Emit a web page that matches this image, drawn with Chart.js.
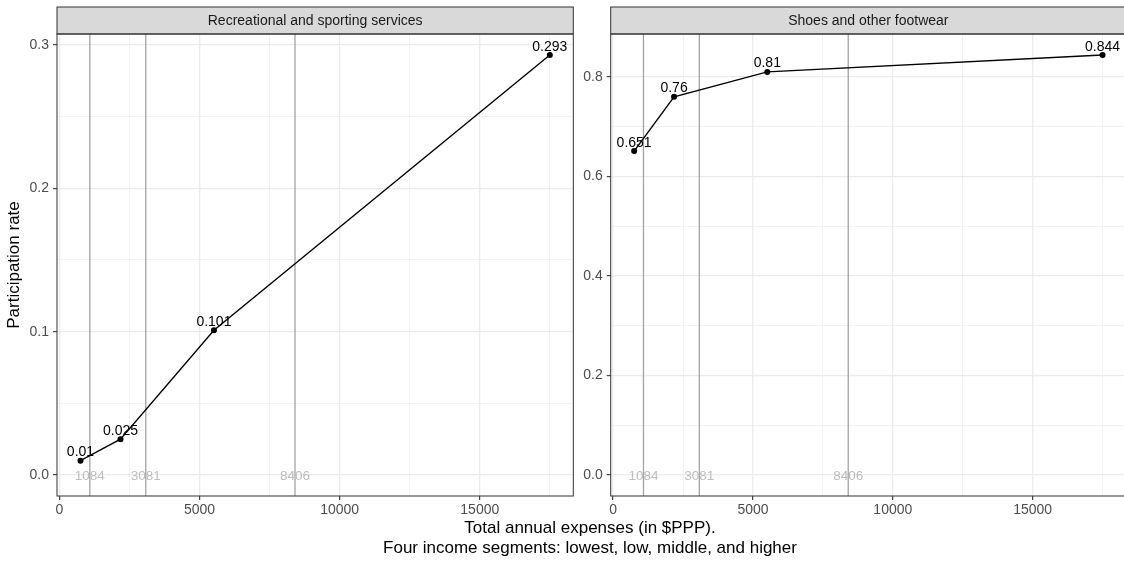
<!DOCTYPE html>
<html>
<head>
<meta charset="utf-8">
<script src="https://cdn.jsdelivr.net/npm/chart.js@4"></script>
<style>
  body { margin: 0; width: 1124px; height: 562px; overflow: hidden; background: #fff; position: relative; }
  canvas { position: absolute; top: 0; }
  #left-chart { left: 0; }
  #right-chart { left: 580px; }
  #x-title {
    position: absolute; left: 190px; width: 800px; top: 518px;
    text-align: center; font-family: "Liberation Sans", Arial, sans-serif;
    font-size: 17px; line-height: 20px; color: #000;
  }
</style>
</head>
<body>
<canvas id="left-chart" width="580" height="562"></canvas>
<canvas id="right-chart" width="550" height="562"></canvas>
<div id="x-title">Total annual expenses (in $PPP).<br>Four income segments: lowest, low, middle, and higher</div>
<script>
// Data
const panelTitles = ["Recreational and sporting services", "Shoes and other footwear"];
const expenses = [750, 2178, 5512, 17500];
const recreational = [0.01, 0.025, 0.101, 0.293];
const footwear = [0.651, 0.76, 0.81, 0.844];
const segmentCuts = [1084, 3081, 8406];

// Tick labels
const xMajorTicks = [0, 5000, 10000, 15000];
const xMinorTicks = [2500, 7500, 12500, 17500];
const leftYMajor = [0, 0.1, 0.2, 0.3];
const leftYMinor = [0.05, 0.15, 0.25];
const rightYMajor = [0, 0.2, 0.4, 0.6, 0.8];
const rightYMinor = [0.1, 0.3, 0.5, 0.7];

Chart.defaults.font.family = "'Liberation Sans', Arial, sans-serif";
Chart.defaults.color = "#4D4D4D";

// ggplot style 5% expansion
function expand(values) {
  const lo = Math.min(...values);
  const hi = Math.max(...values);
  const d = (hi - lo) * 0.05;
  return [lo - d, hi + d];
}

function tickList(major, minor) {
  return major.concat(minor)
    .sort((a, b) => a - b)
    .map(v => ({ value: v, isMajor: major.includes(v) }));
}

function gridOptions() {
  return {
    color: "#EBEBEB",
    lineWidth: c => (c.tick && c.tick.isMajor ? 1.3 : 0.65),
    tickColor: c => (c.tick && c.tick.isMajor ? "#333333" : "rgba(0,0,0,0)"),
    tickWidth: 1.1,
    tickLength: 4,
  };
}

// Strip + panel border
const panelPlugin = {
  id: "panel",
  afterDraw(chart, args, opts) {
    const ctx = chart.ctx;
    const a = chart.chartArea;
    ctx.save();
    ctx.fillStyle = "#D9D9D9";
    ctx.fillRect(a.left, 7, a.right - a.left, a.top - 7);
    ctx.strokeStyle = "#333333";
    ctx.lineWidth = 1;
    ctx.strokeRect(a.left, 7, a.right - a.left, a.top - 7);
    ctx.strokeRect(a.left, a.top, a.right - a.left, a.bottom - a.top);
    ctx.fillStyle = "#1A1A1A";
    ctx.font = "14px 'Liberation Sans', Arial, sans-serif";
    ctx.textAlign = "center";
    ctx.textBaseline = "middle";
    ctx.fillText(opts.title, (a.left + a.right) / 2, (7 + a.top) / 2 + 1);
    ctx.restore();
  },
};

// Income segment thresholds
const segmentPlugin = {
  id: "segments",
  beforeDatasetsDraw(chart) {
    const ctx = chart.ctx;
    const a = chart.chartArea;
    const xs = chart.scales.x;
    const ys = chart.scales.y;
    ctx.save();
    ctx.beginPath();
    ctx.rect(a.left, a.top, a.right - a.left, a.bottom - a.top);
    ctx.clip();
    ctx.strokeStyle = "#A3A3A3";
    ctx.lineWidth = 1.3;
    segmentCuts.forEach(cut => {
      const x = xs.getPixelForValue(cut);
      ctx.beginPath();
      ctx.moveTo(x, a.top);
      ctx.lineTo(x, a.bottom);
      ctx.stroke();
    });
    ctx.fillStyle = "#BDBDBD";
    ctx.font = "13.5px 'Liberation Sans', Arial, sans-serif";
    ctx.textAlign = "center";
    ctx.textBaseline = "middle";
    segmentCuts.forEach(cut => {
      ctx.fillText(String(cut), xs.getPixelForValue(cut), ys.getPixelForValue(0) + 1);
    });
    ctx.restore();
  },
};

// Value labels above points
const labelPlugin = {
  id: "valueLabels",
  afterDatasetsDraw(chart) {
    const ctx = chart.ctx;
    const meta = chart.getDatasetMeta(0);
    const ds = chart.data.datasets[0];
    ctx.save();
    ctx.fillStyle = "#000";
    ctx.font = "14px 'Liberation Sans', Arial, sans-serif";
    ctx.textAlign = "center";
    ctx.textBaseline = "alphabetic";
    meta.data.forEach((pt, i) => {
      ctx.fillText(String(ds.data[i].y), pt.x, pt.y - 4.5);
    });
    ctx.restore();
  },
};

function makeChart(id, values, yMajor, yMinor, title, axisWidth, padRight, yTitle) {
  const xRange = expand(expenses.concat(segmentCuts));
  const yRange = expand(values.concat([0]));
  const yTicks = tickList(yMajor, yMinor);
  const xTicks = tickList(xMajorTicks, xMinorTicks);

  return new Chart(document.getElementById(id), {
    type: "line",
    data: {
      datasets: [{
        data: expenses.map((x, i) => ({ x: x, y: values[i] })),
        borderColor: "#000",
        borderWidth: 1.4,
        backgroundColor: "#000",
        pointRadius: 3,
        pointBorderWidth: 0,
        pointBackgroundColor: "#000",
        tension: 0,
      }],
    },
    options: {
      responsive: false,
      animation: false,
      devicePixelRatio: 1,
      layout: { padding: { left: 0, right: padRight, top: 34, bottom: 0 } },
      plugins: {
        legend: { display: false },
        tooltip: { enabled: false },
        panel: { title: title },
      },
      scales: {
        x: {
          type: "linear",
          min: xRange[0],
          max: xRange[1],
          afterBuildTicks: s => { s.ticks = xTicks.map(t => ({ ...t })); },
          afterFit: s => { s.height = 66; },
          border: { display: false },
          grid: gridOptions(),
          ticks: {
            autoSkip: false,
            maxRotation: 0,
            padding: 2,
            color: "#4D4D4D",
            font: { size: 14 },
            callback: (v, i, ticks) => (ticks[i].isMajor ? String(v) : ""),
          },
        },
        y: {
          type: "linear",
          min: yRange[0],
          max: yRange[1],
          afterBuildTicks: s => { s.ticks = yTicks.map(t => ({ ...t })); },
          afterFit: s => { s.width = axisWidth; },
          border: { display: false },
          grid: gridOptions(),
          title: {
            display: !!yTitle,
            text: yTitle || "",
            color: "#000",
            font: { size: 17 },
            padding: { top: 4, bottom: 0 },
          },
          ticks: {
            autoSkip: false,
            padding: 4,
            color: "#4D4D4D",
            font: { size: 14 },
            callback: (v, i, ticks) => (ticks[i].isMajor ? v.toFixed(1) : ""),
          },
        },
      },
    },
    plugins: [segmentPlugin, labelPlugin, panelPlugin],
  });
}

makeChart("left-chart", recreational, leftYMajor, leftYMinor, panelTitles[0], 57, 6.7, "Participation rate");
makeChart("right-chart", footwear, rightYMajor, rightYMinor, panelTitles[1], 30.7, 2.7, null);
</script>
</body>
</html>
